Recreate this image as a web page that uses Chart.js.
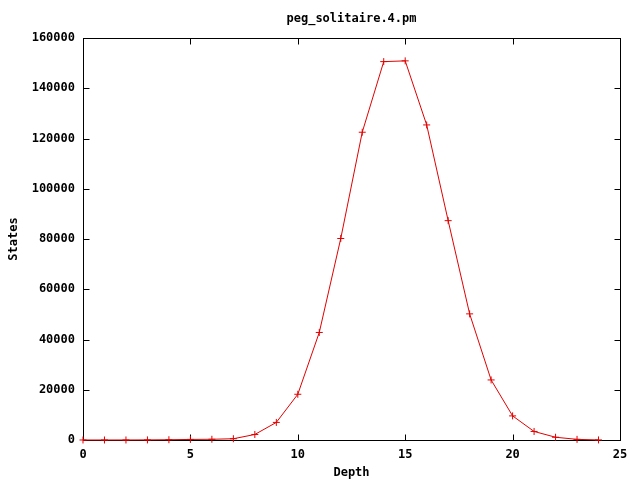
<!DOCTYPE html>
<html>
<head>
<meta charset="utf-8">
<script src="https://cdn.jsdelivr.net/npm/chart.js@4/dist/chart.umd.min.js"></script>
<style>
html,body{margin:0;padding:0;background:#fff;}
#c{display:block;}
</style>
</head>
<body>
<canvas id="c" width="640" height="480"></canvas>
<script>
const chartTitle = "peg_solitaire.4.pm";
const xLabel = "Depth";
const yLabel = "States";
const depths = [0,1,2,3,4,5,6,7,8,9,10,11,12,13,14,15,16,17,18,19,20,21,22,23,24];
const states = [1,4,12,40,110,230,290,500,2200,7000,18200,42800,80200,122500,150600,150900,125400,87300,50200,23900,9600,3400,1100,250,30];
const xTicks = [0,5,10,15,20,25];
const yTicks = [0,20000,40000,60000,80000,100000,120000,140000,160000];

const FONT = '"DejaVu Sans Mono", "Liberation Mono", monospace';
const LINE = 'rgb(225,0,0)';

const framePlugin = {
  id: 'frame',
  beforeDatasetsDraw(chart) {
    const {ctx, chartArea, scales} = chart;
    const L = Math.round(chartArea.left) + 0.5, R = Math.round(chartArea.right) + 0.5;
    const T = Math.round(chartArea.top) + 0.5, B = Math.round(chartArea.bottom) + 0.5;
    ctx.save();
    ctx.strokeStyle = '#000';
    ctx.lineWidth = 1;
    ctx.strokeRect(L, T, R - L, B - T);
    ctx.beginPath();
    scales.x.ticks.forEach(t => {
      const px = Math.round(scales.x.getPixelForValue(t.value)) + 0.5;
      ctx.moveTo(px, B); ctx.lineTo(px, B - 6);
      ctx.moveTo(px, T); ctx.lineTo(px, T + 6);
    });
    scales.y.ticks.forEach(t => {
      const py = Math.round(scales.y.getPixelForValue(t.value)) + 0.5;
      ctx.moveTo(L, py); ctx.lineTo(L + 6, py);
      ctx.moveTo(R, py); ctx.lineTo(R - 6, py);
    });
    ctx.stroke();
    ctx.restore();
  },
  afterDraw(chart) {
    const {ctx, chartArea} = chart;
    ctx.save();
    ctx.fillStyle = '#000';
    ctx.font = 'bold 12px ' + FONT;
    ctx.textAlign = 'center';
    ctx.textBaseline = 'middle';
    ctx.fillText(chartTitle, (chartArea.left + chartArea.right) / 2, 19);
    ctx.restore();
  }
};

new Chart(document.getElementById('c'), {
  type: 'line',
  data: {
    datasets: [{
      data: depths.map((d, i) => ({x: d, y: states[i]})),
      borderColor: LINE,
      backgroundColor: LINE,
      borderWidth: 1,
      pointStyle: 'cross',
      pointRadius: 3.5,
      pointBorderWidth: 1,
      pointBorderColor: LINE,
      tension: 0,
      fill: false,
      clip: false
    }]
  },
  options: {
    responsive: false,
    animation: false,
    devicePixelRatio: 1,
    layout: {padding: {top: 38, right: 20, left: 0, bottom: 0}},
    plugins: {legend: {display: false}, tooltip: {enabled: false}, title: {display: false}},
    scales: {
      x: {
        type: 'linear', min: 0, max: 25,
        afterBuildTicks: s => { s.ticks = xTicks.map(v => ({value: v})); },
        afterFit: s => { s.height = 40; },
        grid: {display: false, drawTicks: false},
        border: {display: false},
        ticks: {color: '#000', padding: 8, font: {family: FONT, size: 12, weight: 'bold'}, maxRotation: 0, callback: v => String(v)},
        title: {display: true, text: xLabel, color: '#000', padding: {top: 1, bottom: 0}, font: {family: FONT, size: 12, weight: 'bold'}}
      },
      y: {
        type: 'linear', min: 0, max: 160000,
        afterBuildTicks: s => { s.ticks = yTicks.map(v => ({value: v})); },
        afterFit: s => { s.width = 83; },
        grid: {display: false, drawTicks: false},
        border: {display: false},
        ticks: {color: '#000', padding: 8, font: {family: FONT, size: 12, weight: 'bold'}, callback: v => String(v)},
        title: {display: true, text: yLabel, color: '#000', padding: {top: 7, bottom: 0}, font: {family: FONT, size: 12, weight: 'bold'}}
      }
    }
  },
  plugins: [framePlugin]
});
</script>
</body>
</html>
